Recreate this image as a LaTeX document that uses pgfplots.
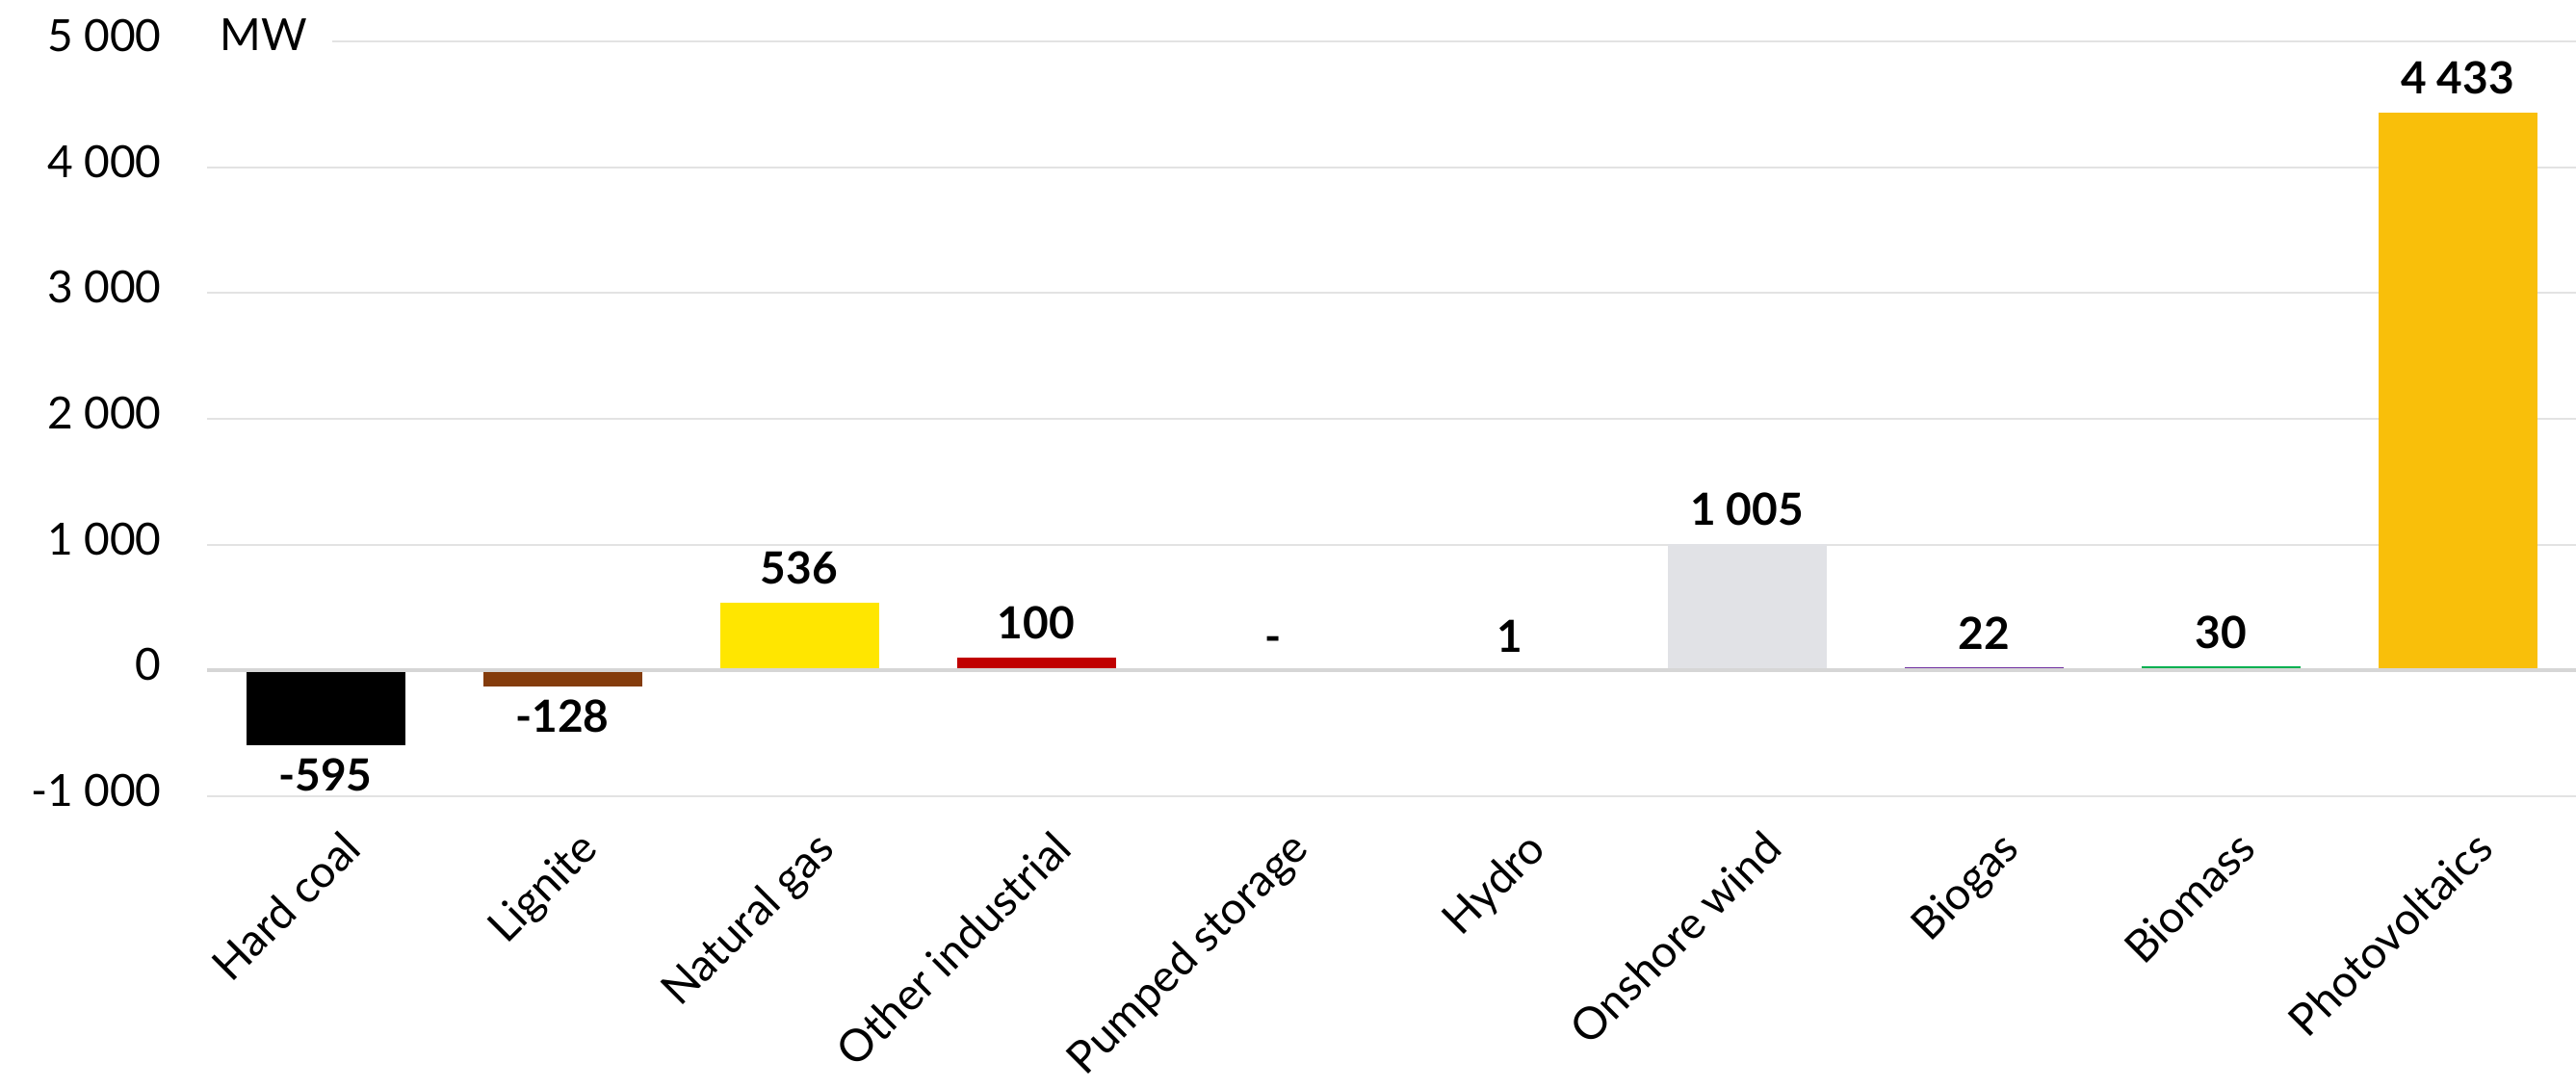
\documentclass[border=0pt]{standalone}
\usepackage{fontspec}
\setmainfont{Lato}
\usepackage{pgfplots}
\pgfplotsset{compat=1.18}

\definecolor{gridgrey}{HTML}{E3E3E3}
\definecolor{zerogrey}{HTML}{D6D6D6}
\definecolor{lignite}{HTML}{843C0C}
\definecolor{gas}{HTML}{FFE600}
\definecolor{otherind}{HTML}{C00000}
\definecolor{hydro}{HTML}{8FAADC}
\definecolor{wind}{HTML}{E1E2E6}
\definecolor{biogas}{HTML}{7030A0}
\definecolor{biomass}{HTML}{00B050}
\definecolor{pv}{HTML}{F9BF0A}

\newcommand\lbl{\fontsize{13.8pt}{16pt}\selectfont}
\newcommand\cat{\fontsize{13.9pt}{17pt}\selectfont}

\begin{document}
\begin{tikzpicture}
\begin{axis}[
  scale only axis, width=738pt, height=235.2pt,
  xmin=-0.5, xmax=9.5, ymin=-1000, ymax=5000,
  ybar, bar width=49.5pt, bar shift=0pt,
  axis line style={draw=none}, tick style={draw=none},
  ymajorgrids, grid style={color=gridgrey, line width=0.6pt},
  ytick={-1000,0,1000,2000,3000,4000,5000},
  yticklabels={-1~000,0,1~000,2~000,3~000,4~000,5~000},
  yticklabel style={font=\lbl, inner sep=0pt, xshift=-14pt, yshift=1.8pt},
  xtick={0,...,9},
  xticklabels={Hard coal,Lignite,Natural gas,Other industrial,Pumped storage,Hydro,Onshore wind,Biogas,Biomass,Photovoltaics},
  xticklabel style={font=\cat, xshift=4.5pt, yshift=-5.5pt, rotate=45, anchor=north east, inner sep=0pt},
  point meta=explicit symbolic,
  nodes near coords,
  every node near coord/.append style={font=\lbl\bfseries, inner sep=0pt},
  pos/.style={every node near coord/.append style={anchor=south, yshift=5.5pt}},
  neg/.style={every node near coord/.append style={anchor=north, yshift=-4pt}},
  clip=false,
]
\addplot[fill=black, draw=none, neg] coordinates {(0,-595) [-595]};
\addplot[fill=lignite, draw=none, neg] coordinates {(1,-128) [-128]};
\addplot[fill=gas, draw=none, pos] coordinates {(2,536) [536]};
\addplot[fill=otherind, draw=none, pos] coordinates {(3,100) [100]};
\addplot[fill=white, draw=none, pos] coordinates {(4,0) [-]};
\addplot[fill=hydro, draw=none, pos] coordinates {(5,1) [1]};
\addplot[fill=wind, draw=none, pos] coordinates {(6,1005) [1~005]};
\addplot[fill=biogas, draw=none, pos] coordinates {(7,22) [22]};
\addplot[fill=biomass, draw=none, pos] coordinates {(8,30) [30]};
\addplot[fill=pv, draw=none, pos] coordinates {(9,4433) [4~433]};

\draw[zerogrey, line width=1.1pt] (axis cs:-0.5,0) -- (axis cs:9.5,0);
\fill[white] (axis cs:-0.5,4950) rectangle (axis cs:0.03,5050);
\node[font=\lbl, anchor=base west, inner sep=0pt] at (axis cs:-0.447,4931) {MW};
\end{axis}
\pgfresetboundingbox
\useasboundingbox (-64.5pt,-90.9pt) rectangle (738pt,248.1pt);
\end{tikzpicture}
\end{document}
